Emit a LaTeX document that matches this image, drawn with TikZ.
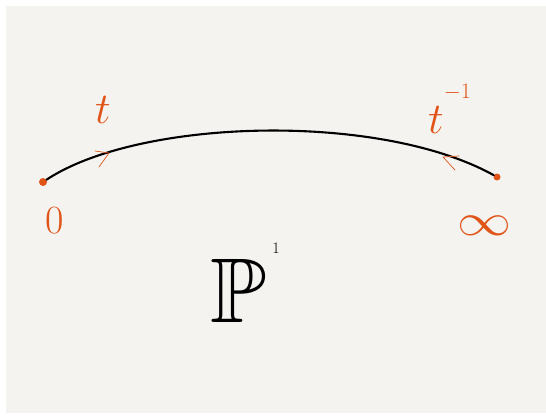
\documentclass[tikz,border=0pt]{standalone}
\usepackage{fix-cm}
\usepackage{amssymb}
\DeclareFontFamily{U}{msb}{}
\DeclareFontShape{U}{msb}{m}{n}{<-> msbm10}{}
\definecolor{sketchred}{RGB}{224,84,24}
\definecolor{paper}{RGB}{244,243,240}
\tikzset{
  pt/.style={circle,fill=sketchred,inner sep=0pt,minimum size=#1},
  chevron/.style={sketchred,line width=0.7pt,line cap=round,line join=round},
  lbl/.style={sketchred,inner sep=0pt,anchor=base west,font=\fontsize{#1}{#1}\selectfont},
}
\begin{document}
\begin{tikzpicture}[x=1pt,y=-1pt]
\useasboundingbox (0,0) rectangle (546,415);
\fill[white] (0,0) rectangle (546,415);
\fill[paper] (6,6) rectangle (546,413);
% the two ends of the line
\node[pt=8pt] (zero) at (43,182) {};
\node[pt=7pt] (inf) at (497,177) {};
\draw[line width=2.1pt,line cap=round] (zero) .. controls (140,118) and (380,112) .. (inf);
% direction marks
\coordinate (ltip) at (109,153);
\draw[chevron] (95,151) -- (ltip) -- (99,167);
\coordinate (rtip) at (443,157);
\draw[chevron] (459,156) -- (rtip) -- (455,170);
% labels
\node[lbl=44pt] (tleft) at (95,123) {$t$};
\node[lbl=44pt] (tright) at (428,133)
  {$t^{\raisebox{19pt}{$\scriptscriptstyle -1$}}$};
\node[lbl=40pt] (zerolbl) at (45,233) {$0$};
\node[lbl=45pt,xscale=1.2] (inflbl) at (457,235) {$\infty$};
\node[inner sep=0pt,anchor=base west,font=\fontsize{92}{92}\selectfont] (pone) at (210,322)
  {$\mathbb{P}$\hspace{6pt}\raisebox{69pt}{\fontsize{16}{16}\selectfont 1}};
\end{tikzpicture}
\end{document}
